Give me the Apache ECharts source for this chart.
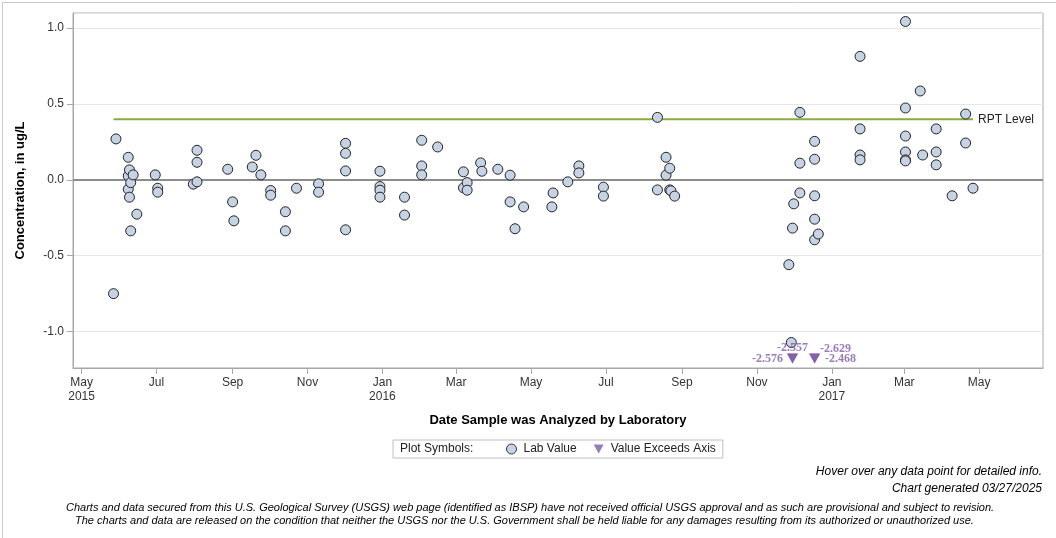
<!DOCTYPE html>
<html>
<head>
<meta charset="utf-8">
<script src="https://cdn.jsdelivr.net/npm/echarts@6/dist/echarts.min.js"></script>
<style>
  html, body { margin: 0; padding: 0; background: #fff; }
  #chart { width: 1056px; height: 538px; }
</style>
</head>
<body>
<div id="chart"></div>
<script>
  // lab results: date analyzed + concentration (ug/L)
  var labDates = [
    '2015-05-27', '2015-05-29',
    '2015-06-08', '2015-06-08', '2015-06-08', '2015-06-09', '2015-06-09',
    '2015-06-10', '2015-06-10', '2015-06-12', '2015-06-15', '2015-06-30',
    '2015-07-02', '2015-07-02', '2015-07-31',
    '2015-08-03', '2015-08-03', '2015-08-03', '2015-08-28',
    '2015-09-01', '2015-09-02', '2015-09-17', '2015-09-20', '2015-09-24',
    '2015-10-02', '2015-10-02', '2015-10-14', '2015-10-14', '2015-10-23',
    '2015-11-10', '2015-11-10',
    '2015-12-02', '2015-12-02', '2015-12-02', '2015-12-02',
    '2015-12-30', '2015-12-30', '2015-12-30', '2015-12-30',
    '2016-01-19', '2016-01-19',
    '2016-02-02', '2016-02-02', '2016-02-02', '2016-02-15',
    '2016-03-07', '2016-03-07', '2016-03-10', '2016-03-10', '2016-03-21', '2016-03-22',
    '2016-04-04', '2016-04-14', '2016-04-14', '2016-04-18', '2016-04-25',
    '2016-05-18', '2016-05-19', '2016-05-31',
    '2016-06-09', '2016-06-09', '2016-06-29', '2016-06-29',
    '2016-08-12', '2016-08-12', '2016-08-19', '2016-08-19', '2016-08-22', '2016-08-22',
    '2016-08-23', '2016-08-26',
    '2016-11-27', '2016-11-29', '2016-11-30',
    '2016-12-01', '2016-12-06', '2016-12-06', '2016-12-06',
    '2016-12-18', '2016-12-18', '2016-12-18', '2016-12-18', '2016-12-18', '2016-12-21',
    '2017-01-24', '2017-01-24', '2017-01-24', '2017-01-24',
    '2017-03-02', '2017-03-02', '2017-03-02', '2017-03-02', '2017-03-02', '2017-03-02',
    '2017-03-14', '2017-03-16', '2017-03-27', '2017-03-27', '2017-03-27',
    '2017-04-09', '2017-04-20', '2017-04-20', '2017-04-26'
  ];
  var labValues = [
    -0.75, 0.27,
    0.149, 0.026, -0.061, 0.066, -0.114,
    -0.018, -0.336, 0.033, -0.226, 0.033,
    -0.055, -0.081, -0.028,
    0.195, 0.116, -0.013, 0.070,
    -0.145, -0.270, 0.085, 0.162, 0.033,
    -0.070, -0.101, -0.210, -0.336, -0.055,
    -0.026, -0.081,
    0.241, 0.175, 0.059, -0.329,
    0.057, -0.044, -0.068, -0.114,
    -0.114, -0.232,
    0.261, 0.092, 0.033, 0.217,
    0.053, -0.053, -0.018, -0.068, 0.112, 0.057,
    0.070, 0.031, -0.145, -0.322, -0.178,
    -0.178, -0.086, -0.013,
    0.092, 0.046, -0.048, -0.107,
    0.412, -0.066, 0.149, 0.031, 0.077, -0.066,
    -0.072, -0.107,
    -0.559, -1.072, -0.318,
    -0.158, 0.445, 0.110, -0.086,
    0.254, 0.136, -0.105, -0.259, -0.395, -0.357,
    0.814, 0.336, 0.164, 0.132,
    1.044, 0.474, 0.289, 0.184, 0.132, 0.125,
    0.586, 0.164, 0.336, 0.184, 0.099,
    -0.105, 0.434, 0.243, -0.055
  ];

  // values below the axis floor, drawn as triangles
  var exceedDates = ['2016-11-30', '2016-11-30', '2016-12-18', '2016-12-18'];
  var exceedValues = [-2.557, -2.576, -2.629, -2.468];

  var rptLevel = 0.4;

  var xTickDates = ['2015-05-01', '2015-07-01', '2015-09-01', '2015-11-01', '2016-01-01',
    '2016-03-01', '2016-05-01', '2016-07-01', '2016-09-01', '2016-11-01',
    '2017-01-01', '2017-03-01', '2017-05-01'];
  var monthNames = ['Jan', 'Feb', 'Mar', 'Apr', 'May', 'Jun', 'Jul', 'Aug', 'Sep', 'Oct', 'Nov', 'Dec'];

  var yMin = -1.24, yMax = 1.1;
  var exceedFloor = -1.178;

  function ts(s) {
    var p = s.split('-');
    return Date.UTC(+p[0], +p[1] - 1, +p[2]);
  }

  var labData = labDates.map(function (d, i) { return [ts(d), labValues[i]]; });
  var xTicks = xTickDates.map(ts);
  var firstTick = xTicks[0];

  // label placement for the four exceed values
  var exceedLabels = [
    { position: 'top', distance: 0 },
    { position: 'left', distance: 4 },
    { position: 'right', distance: 0, offset: [0, -10] },
    { position: 'right', distance: 5 }
  ];
  var exceedData = exceedDates.map(function (d, i) {
    var l = exceedLabels[i];
    return {
      value: [ts(d), exceedFloor, exceedValues[i]],
      label: { position: l.position, distance: l.distance, offset: l.offset || [0, 0] }
    };
  });

  var firstLab = Math.min.apply(null, labData.map(function (p) { return p[0]; }));
  var lastLab = Math.max.apply(null, labData.map(function (p) { return p[0]; }));

  var font = "'Liberation Sans', Arial, sans-serif";

  var chart = echarts.init(document.getElementById('chart'));
  chart.setOption({
    animation: false,
    textStyle: { fontFamily: font },
    grid: {
      left: 73, right: 13, top: 13, bottom: 170,
      show: true, borderColor: '#a8a8a8', borderWidth: 1
    },
    xAxis: {
      type: 'value',
      min: ts('2015-04-24'),
      max: ts('2017-06-22'),
      name: 'Date Sample was Analyzed by Laboratory',
      nameLocation: 'middle',
      nameGap: 46,
      nameTextStyle: { fontSize: 13, fontWeight: 'bold', color: '#000', fontFamily: font },
      axisLine: { show: true, onZero: false, lineStyle: { color: '#a8a8a8' } },
      axisTick: { show: true, customValues: xTicks, length: 6, lineStyle: { color: '#a8a8a8' } },
      axisLabel: {
        customValues: xTicks,
        color: '#333', fontSize: 12, lineHeight: 14, margin: 8,
        formatter: function (v) {
          var d = new Date(v);
          var m = monthNames[d.getUTCMonth()];
          if (v === firstTick || d.getUTCMonth() === 0) return m + '\n' + d.getUTCFullYear();
          return m;
        }
      },
      splitLine: { show: false }
    },
    yAxis: {
      type: 'value',
      min: yMin,
      max: yMax,
      name: 'Concentration, in ug/L',
      nameLocation: 'middle',
      nameGap: 46,
      nameTextStyle: { fontSize: 13, fontWeight: 'bold', color: '#000', fontFamily: font },
      axisLine: { show: true, onZero: false, lineStyle: { color: '#a8a8a8' } },
      axisTick: { show: true, length: 6, lineStyle: { color: '#a8a8a8' } },
      axisLabel: {
        color: '#333', fontSize: 12, margin: 9,
        showMinLabel: false, showMaxLabel: false,
        formatter: function (v) { return v.toFixed(1); }
      },
      splitLine: { show: true, lineStyle: { color: '#e6e6e6' } }
    },
    legend: {
      left: 393, top: 440,
      padding: [3, 7, 3, 113],
      itemGap: 17,
      itemWidth: 10, itemHeight: 10,
      borderColor: '#c0c0c0', borderWidth: 1,
      textStyle: { fontSize: 12, color: '#222', fontFamily: font, padding: [0, 0, 0, 2] },
      data: [
        { name: 'Lab Value', icon: 'circle', itemStyle: { color: '#c5d3e5', borderColor: '#333', borderWidth: 1 } },
        { name: 'Value Exceeds Axis', icon: 'path://M0,0 L10,0 L5,9 Z', itemStyle: { color: '#7d5ba6', borderWidth: 0 } }
      ]
    },
    graphic: [
      { type: 'rect', left: 0, top: 0, silent: true,
        shape: { x: 0.5, y: 0.5, width: 1055, height: 537 },
        style: { fill: 'none', stroke: '#c8c8c8', lineWidth: 1 } },
      { type: 'text', left: 400, top: 443,
        style: { text: 'Plot Symbols:', font: '12px ' + font, fill: '#222' } },
      { type: 'text', right: 14, top: 466,
        style: { text: 'Hover over any data point for detailed info.', font: 'italic 12px ' + font, fill: '#000', textAlign: 'right' } },
      { type: 'text', right: 14, top: 483,
        style: { text: 'Chart generated 03/27/2025', font: 'italic 12px ' + font, fill: '#000', textAlign: 'right' } },
      { type: 'text', left: 66, top: 502,
        style: { text: 'Charts and data secured from this U.S. Geological Survey (USGS) web page (identified as IBSP) have not received official USGS approval and as such are provisional and subject to revision.', font: 'italic 11px ' + font, fill: '#000' } },
      { type: 'text', left: 75, top: 515,
        style: { text: 'The charts and data are released on the condition that neither the USGS nor the U.S. Government shall be held liable for any damages resulting from its authorized or unauthorized use.', font: 'italic 11px ' + font, fill: '#000' } }
    ],
    series: [
      {
        name: 'RPT Level',
        type: 'line',
        data: [[firstLab, rptLevel], [lastLab, rptLevel]],
        symbol: 'none',
        silent: true,
        lineStyle: { color: '#8aab3f', width: 2 },
        endLabel: { show: true, formatter: 'RPT Level', color: '#222', fontSize: 12, distance: 5, fontFamily: font },
        markLine: {
          silent: true, symbol: 'none', label: { show: false },
          lineStyle: { color: '#8c8c8c', width: 2, type: 'solid' },
          data: [{ yAxis: 0 }]
        },
        z: 2
      },
      {
        name: 'Lab Value',
        type: 'scatter',
        data: labData,
        symbol: 'circle',
        symbolSize: 10,
        itemStyle: { color: '#c5d3e5', borderColor: '#222', borderWidth: 1, opacity: 1 },
        z: 5
      },
      {
        name: 'Value Exceeds Axis',
        type: 'scatter',
        data: exceedData,
        symbol: 'triangle',
        symbolRotate: 180,
        symbolSize: [11, 10],
        itemStyle: { color: '#7d5ba6' },
        label: {
          show: true,
          formatter: function (p) { return p.value[2].toFixed(3); },
          color: '#7d5ba6', fontSize: 12, fontWeight: 'bold',
          fontFamily: "'Liberation Serif', 'Times New Roman', serif"
        },
        z: 6
      }
    ]
  });
</script>
</body>
</html>
